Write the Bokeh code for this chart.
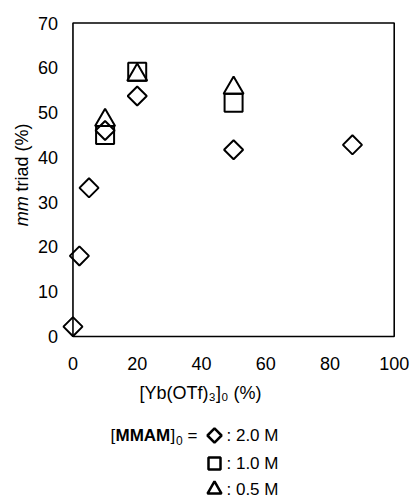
import math
from bokeh.plotting import figure
from bokeh.models import Range1d, FixedTicker, Label
from bokeh.layouts import column
from bokeh.embed import file_html
from bokeh.resources import INLINE

# ---- data ----
x_2M = [0, 2, 5, 10, 20, 50, 87]
y_2M = [2.2, 18.0, 33.2, 46.0, 53.7, 41.7, 42.8]
x_1M = [10, 20, 50]
y_1M = [45.0, 59.1, 52.2]
x_05M = [10, 20, 50]
y_05M = [48.3, 58.4, 55.5]
x_ticks = [0, 20, 40, 60, 80, 100]
y_ticks = [0, 10, 20, 30, 40, 50, 60, 70]
series_labels = [": 2.0 M", ": 1.0 M", ": 0.5 M"]
x_label = "[Yb(OTf)\u2083]\u2080 (%)"

FONT = "Liberation Sans"
BL, BR = 5, 15

p = figure(width=410, height=405,
           x_range=Range1d(-21, 100.4), y_range=Range1d(-2.9, 72.8),
           output_backend="svg", toolbar_location=None,
           min_border_left=BL, min_border_right=BR,
           min_border_top=10, min_border_bottom=53)
p.outline_line_color = None
p.xgrid.visible = False
p.ygrid.visible = False

for ax in (p.xaxis[0], p.yaxis[0]):
    ax.axis_line_color = None
    ax.major_tick_line_color = None
    ax.minor_tick_line_color = None
    ax.major_tick_in = 0
    ax.major_tick_out = 0
    ax.major_label_text_font = FONT
    ax.major_label_text_font_size = "18px"
    ax.major_label_text_color = "black"

p.xaxis.ticker = FixedTicker(ticks=x_ticks)
p.yaxis.ticker = FixedTicker(ticks=y_ticks)
p.yaxis.fixed_location = x_ticks[0]
p.xaxis.major_label_standoff = 7
p.yaxis.major_label_standoff = 15
p.xaxis.axis_label = x_label
p.xaxis.axis_label_text_font = FONT
p.xaxis.axis_label_text_font_size = "18px"
p.xaxis.axis_label_text_font_style = "normal"
p.xaxis.axis_label_text_color = "black"
p.xaxis.axis_label_standoff = 10

# frame box at the axis limits
p.quad(left=[x_ticks[0]], right=[x_ticks[-1]], bottom=[y_ticks[0]], top=[y_ticks[-1]],
       fill_color=None, line_color="black", line_width=1.6)

# y axis label: italic "mm" + "triad (%)"
p.add_layout(Label(x=-15.95, y=24.6, text="mm",
                   angle=math.pi / 2, text_align="left", text_baseline="middle",
                   text_font=FONT, text_font_size="18px", text_font_style="italic",
                   text_color="black"))
p.add_layout(Label(x=-15.95, y=32.4, text="triad (%)",
                   angle=math.pi / 2, text_align="left", text_baseline="middle",
                   text_font=FONT, text_font_size="18px", text_color="black"))

common = dict(fill_color=None, line_color="black", line_width=2)
p.scatter(x_2M, y_2M, marker="square", angle=math.pi / 4, size=13.5, **common)
p.scatter(x_1M, y_1M, marker="square", size=18, **common)
p.scatter(x_05M, y_05M, marker="triangle", size=20, **common)

# ---- legend panel (x in page pixels) ----
lg = figure(width=410, height=93, x_range=Range1d(BL, 410 - BR), y_range=Range1d(93, 0),
            x_axis_type=None, y_axis_type=None, output_backend="svg",
            toolbar_location=None, min_border_left=BL, min_border_right=BR,
            min_border_top=0, min_border_bottom=0)
lg.outline_line_color = None
lg.grid.visible = False

rows = [30, 58, 84]
key_x = 214
lcommon = dict(fill_color=None, line_color="black", line_width=2.5)
lg.scatter([key_x], [rows[0]], marker="square", angle=math.pi / 4, size=10, **lcommon)
lg.scatter([key_x], [rows[1]], marker="square", size=12, **lcommon)
lg.scatter([key_x], [rows[2]], marker="triangle", size=14, **lcommon)
for r, t in zip(rows, series_labels):
    lg.add_layout(Label(x=226, y=r, text=t, text_baseline="middle",
                        text_font=FONT, text_font_size="17px", text_color="black"))

lg.add_layout(Label(x=110, y=rows[0], text="[", text_baseline="middle",
                    text_font=FONT, text_font_size="17px", text_color="black"))
lg.add_layout(Label(x=115, y=rows[0], text="MMAM", text_baseline="middle",
                    text_font=FONT, text_font_size="17px", text_font_style="bold",
                    text_color="black"))
lg.add_layout(Label(x=170, y=rows[0], text="]", text_baseline="middle",
                    text_font=FONT, text_font_size="17px", text_color="black"))
lg.add_layout(Label(x=175.5, y=rows[0] + 5, text="0", text_baseline="middle",
                    text_font=FONT, text_font_size="12px", text_color="black"))
lg.add_layout(Label(x=187, y=rows[0], text="=", text_baseline="middle",
                    text_font=FONT, text_font_size="17px", text_color="black"))

layout = column(p, lg, spacing=0)
open("out.html", "w").write(file_html(layout, INLINE))
